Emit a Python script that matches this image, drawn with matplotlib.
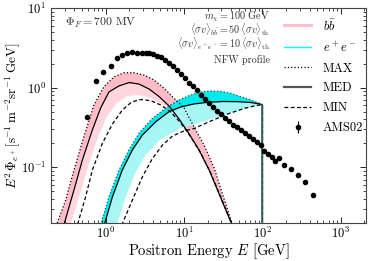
import numpy as np
import matplotlib
matplotlib.use('Agg')
import matplotlib.pyplot as plt
from matplotlib.lines import Line2D

plt.rcParams['font.family'] = 'serif'
plt.rcParams['font.serif'] = ['cmr10']
plt.rcParams['mathtext.fontset'] = 'cm'
plt.rcParams['axes.unicode_minus'] = False
plt.rcParams['axes.formatter.use_mathtext'] = True

# --- b bbar channel (pink band) ---
bb_max_E = np.array([0.233, 0.309, 0.394, 0.528, 0.709, 0.951, 1.28, 1.71, 2.30, 3.08,
                     4.14, 5.55, 7.45, 10.0, 13.4, 18.0, 24.2, 31.2, 41.3])
bb_max_flux = np.array([0.0182, 0.0387, 0.0921, 0.242, 0.606, 1.03, 1.37, 1.54, 1.54, 1.44,
                        1.25, 0.983, 0.736, 0.556, 0.321, 0.190, 0.0977, 0.0447, 0.0193])
bb_med_E = np.array([0.295, 0.394, 0.504, 0.676, 0.863, 1.10, 1.47, 1.99, 2.66, 3.57,
                     4.79, 6.43, 8.63, 11.6, 15.5, 20.9, 27.7, 34.1, 40.6])
bb_med_flux = np.array([0.0193, 0.0516, 0.123, 0.294, 0.556, 0.883, 1.05, 1.16, 1.11, 0.963,
                        0.775, 0.589, 0.404, 0.262, 0.165, 0.0922, 0.0474, 0.0290, 0.0193])
bb_low_E = np.array([0.357, 0.466, 0.607, 0.790, 1.03, 1.38, 1.91, 2.64, 3.76, 5.35,
                     7.17, 9.62, 12.9, 17.3, 23.3, 30.3, 40.6])
bb_low_flux = np.array([0.0193, 0.0447, 0.107, 0.233, 0.428, 0.642, 0.787, 0.810, 0.742, 0.606,
                        0.481, 0.340, 0.226, 0.142, 0.0775, 0.0410, 0.0193])
bb_min_E = np.array([0.439, 0.555, 0.676, 0.908, 1.22, 1.63, 2.15, 2.80, 3.76, 5.04,
                     6.76, 9.08, 12.2, 16.3, 21.9, 29.4, 40.6])
bb_min_flux = np.array([0.0193, 0.0425, 0.0922, 0.200, 0.349, 0.524, 0.661, 0.711, 0.686, 0.606,
                        0.494, 0.360, 0.240, 0.151, 0.0845, 0.0422, 0.0193])

# --- e+e- channel (cyan band) ---
ee_max_E = np.array([0.863, 1.10, 1.48, 1.98, 2.66, 3.95, 5.84, 8.31, 12.2, 16.3,
                     21.9, 29.4, 39.5, 53.0, 71.1, 90.0, 100.0, 100.0])
ee_max_flux = np.array([0.0187, 0.0425, 0.0922, 0.165, 0.267, 0.412, 0.551, 0.690, 0.810, 0.883,
                        0.909, 0.896, 0.850, 0.770, 0.700, 0.642, 0.61, 0.01])
ee_med_E = np.array([0.957, 1.22, 1.63, 2.19, 2.94, 4.35, 6.43, 9.08, 13.3, 20.1,
                     31.2, 48.5, 71.1, 92.6, 100.0, 100.0])
ee_med_flux = np.array([0.0187, 0.0425, 0.0922, 0.165, 0.254, 0.373, 0.499, 0.572, 0.624, 0.655,
                        0.670, 0.667, 0.651, 0.624, 0.61, 0.01])
ee_low_E = np.array([1.40, 1.80, 2.42, 3.24, 5.04, 9.08, 14.1, 23.9, 39.5, 65.1, 90.0, 100.0])
ee_low_flux = np.array([0.0193, 0.0422, 0.0870, 0.143, 0.226, 0.311, 0.349, 0.416, 0.481, 0.556,
                        0.597, 0.61])
ee_min_E = np.array([1.60, 2.19, 2.94, 3.95, 5.30, 7.11, 9.91, 13.4, 21.9, 35.8,
                     58.4, 82.4, 100.0, 100.0])
ee_min_flux = np.array([0.0187, 0.0387, 0.0760, 0.129, 0.190, 0.247, 0.285, 0.307, 0.381, 0.467,
                        0.548, 0.597, 0.61, 0.01])

# --- AMS02 positron data ---
ams_E = np.array([0.584, 0.745, 0.935, 1.16, 1.38, 1.63, 1.89, 2.19, 2.54, 2.88,
                  3.24, 3.54, 3.98, 4.48, 5.04, 5.67, 6.38, 7.17, 8.07, 9.08,
                  10.2, 11.5, 12.9, 14.5, 16.3, 18.4, 20.7, 23.3, 26.2, 29.4,
                  33.1, 37.2, 41.9, 47.1, 53.0, 59.6, 67.0, 75.4, 84.8, 95.4,
                  105, 116, 131, 145, 163, 189, 231, 281, 348, 447])
ams_flux = np.array([0.425, 1.22, 1.56, 1.89, 2.34, 2.58, 2.71, 2.79, 2.76, 2.71,
                     2.71, 2.69, 2.62, 2.50, 2.40, 2.23, 2.05, 1.85, 1.65, 1.47,
                     1.31, 1.16, 1.04, 0.922, 0.809, 0.721, 0.642, 0.572, 0.516, 0.467,
                     0.421, 0.381, 0.344, 0.316, 0.290, 0.269, 0.247, 0.226, 0.207, 0.190,
                     0.161, 0.147, 0.136, 0.120, 0.132, 0.107, 0.0964, 0.0810, 0.0651, 0.0454])

fig = plt.figure(figsize=(3.74, 2.61), dpi=100)
ax = fig.add_axes([0.136, 0.146, 0.843, 0.823])

# bands
ax.fill(np.concatenate([bb_max_E, bb_med_E[::-1]]),
        np.concatenate([bb_max_flux, bb_med_flux[::-1]]), color='#ffbcc6', lw=0)
ax.fill(np.concatenate([bb_med_E, bb_low_E[::-1]]),
        np.concatenate([bb_med_flux, bb_low_flux[::-1]]), color='#ffd6dc', lw=0)
ax.fill(np.concatenate([ee_max_E[:-1], ee_med_E[-2::-1]]),
        np.concatenate([ee_max_flux[:-1], ee_med_flux[-2::-1]]), color='#00ecec', lw=0)
ax.fill(np.concatenate([ee_med_E[:-1], ee_low_E[::-1]]),
        np.concatenate([ee_med_flux[:-1], ee_low_flux[::-1]]), color='#a8f7f7', lw=0)

# MAX / MED / MIN curves
lw = 0.9
ax.plot(bb_max_E, bb_max_flux, color='k', ls=':', lw=lw)
ax.plot(bb_med_E, bb_med_flux, color='k', ls='-', lw=lw)
ax.plot(bb_min_E, bb_min_flux, color='k', ls='--', lw=lw, dashes=(3, 2))
ax.plot(ee_max_E, ee_max_flux, color='#1f4f4f', ls=':', lw=lw)
ax.plot(ee_med_E, ee_med_flux, color='k', ls='-', lw=lw)
ax.plot(ee_min_E, ee_min_flux, color='k', ls='--', lw=lw, dashes=(3, 2))
ax.plot(ee_med_E[-2:], ee_med_flux[-2:], color='#2f6f6f', lw=1.2)

ams = ax.errorbar(ams_E, ams_flux, yerr=0, fmt='o', color='k', ms=3.0,
                  elinewidth=0.8, capsize=0, zorder=5)

ax.set_xscale('log')
ax.set_yscale('log')
ax.set_xlim(0.2, 2100)
ax.set_ylim(0.02, 10)
ax.tick_params(which='both', direction='in', top=True, right=True, labelsize=9)
ax.tick_params(axis='x', pad=2)
ax.tick_params(which='major', length=4, width=0.6)
ax.tick_params(which='minor', length=2, width=0.5)
for s in ax.spines.values():
    s.set_linewidth(0.8)
    s.set_color('#444444')

ax.set_xlabel(r'Positron Energy $E$ [GeV]', fontsize=10.5)
ax.xaxis.set_label_coords(0.5, -0.085)
ax.set_ylabel(r'$E^2\,\mathbf{\Phi}_{e^+}[{\rm s^{-1}\,m^{-2}sr^{-1}\,GeV}]$', fontsize=9.5)
ax.yaxis.set_label_coords(-0.09, 0.5)

ax.text(0.045, 0.965, r'$\Phi_F = 700$ MV', transform=ax.transAxes, fontsize=8.5,
        ha='left', va='top', color='#333333')
info = [r'$m_\chi = 100$ GeV',
        r'$\langle\sigma v\rangle_{b\bar{b}} = 50\,\langle\sigma v\rangle_{\rm th}$',
        r'$\langle\sigma v\rangle_{e^+e^-} = 10\,\langle\sigma v\rangle_{\rm th}$',
        'NFW profile']
info_y = [0.950, 0.880, 0.813, 0.745]
for s, yy in zip(info, info_y):
    ax.text(0.695, yy, s, transform=ax.transAxes, fontsize=7.3,
            ha='right', va='baseline', color='#333333')

handles = [Line2D([], [], color='pink', lw=2.2),
           Line2D([], [], color='cyan', lw=1.0),
           Line2D([], [], color='k', ls=':', lw=0.9),
           Line2D([], [], color='#555555', ls='-', lw=1.6),
           Line2D([], [], color='k', ls='--', lw=0.9, dashes=(3, 2)),
           ams]
labels = [r'$b\bar{b}$', r'$e^+e^-$', 'MAX', 'MED', 'MIN', 'AMS02']
ax.legend(handles, labels, loc='upper right', frameon=False, fontsize=9,
          handlelength=2.2, handletextpad=0.9, labelspacing=0.62,
          borderaxespad=0.1, bbox_to_anchor=(1.01, 0.985))

fig.savefig('out.png', dpi=100)
